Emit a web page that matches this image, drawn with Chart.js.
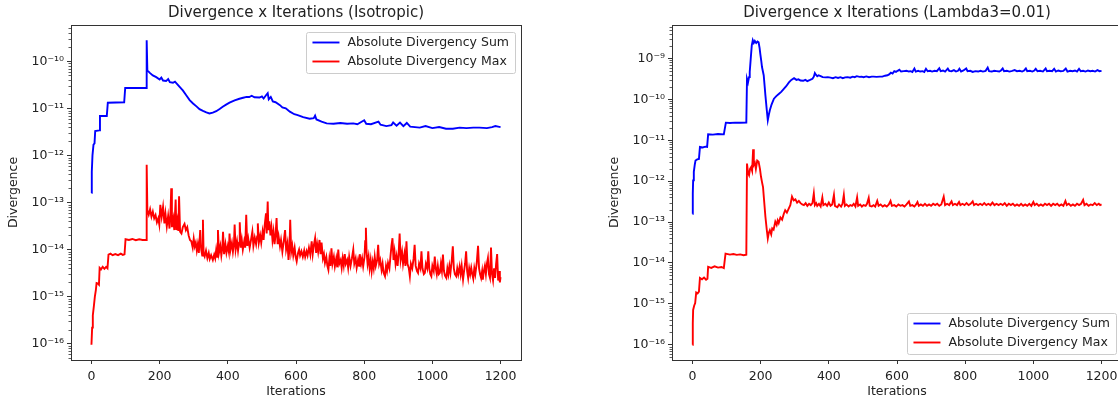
<!DOCTYPE html>
<html>
<head>
<meta charset="utf-8">
<script src="https://cdn.jsdelivr.net/npm/chart.js@4"></script>
<style>
  html, body { margin: 0; padding: 0; background: #fff; overflow: hidden; }
  body { width: 1118px; height: 400px; position: relative; }
  .plot { position: absolute; top: 0; }
</style>
</head>
<body>
<div class="plot" style="left:0px"><canvas id="chartIso" width="560" height="400"></canvas></div>
<div class="plot" style="left:601px"><canvas id="chartLam" width="560" height="400"></canvas></div>
<script>
// titles and labels
const titles = ['Divergence x Iterations (Isotropic)', 'Divergence x Iterations (Lambda3=0.01)'];
const seriesNames = ['Absolute Divergency Sum', 'Absolute Divergency Max'];
const xTicks = [0, 200, 400, 600, 800, 1000, 1200];
const yTicks = [1e-16, 1e-15, 1e-14, 1e-13, 1e-12, 1e-11, 1e-10, 1e-9];

// [iteration, value] - isotropic run
const isoSum = [
  [0,1.6e-13],[1,4.5e-13],[3,1.0e-12],[6,1.7e-12],[9,1.8e-12],[11,3.3e-12],[23,3.4e-12],[25,6.9e-12],[45,6.9e-12],
  [48,1.32e-11],[96,1.35e-11],[99,2.7e-11],[160,2.7e-11],[162,2.8e-10],[164,6.4e-11],[172,5.6e-11],[180,5.0e-11],
  [190,4.6e-11],[200,4.1e-11],[205,4.5e-11],[210,3.9e-11],[219,3.8e-11],[225,4.2e-11],[230,3.6e-11],[239,3.5e-11],
  [245,3.7e-11],[258,2.9e-11],[268,2.4e-11],[278,1.9e-11],[288,1.5e-11],[298,1.27e-11],[308,1.1e-11],[317,9.6e-12],
  [327,8.8e-12],[337,8.2e-12],[346,7.8e-12],[356,8.1e-12],[366,8.7e-12],[376,9.7e-12],[385,1.08e-11],[395,1.2e-11],
  [405,1.32e-11],[420,1.48e-11],[434,1.6e-11],[445,1.68e-11],[455,1.75e-11],[463,1.74e-11],[470,1.85e-11],[478,1.72e-11],
  [493,1.7e-11],[500,1.8e-11],[505,1.62e-11],[512,1.9e-11],[517,2.1e-11],[520,1.55e-11],[526,1.75e-11],[532,1.4e-11],
  [540,1.35e-11],[553,1.17e-11],[560,1.05e-11],[570,1.0e-11],[582,8.5e-12],[595,7.5e-12],[605,7.2e-12],[621,6.5e-12],
  [640,6.0e-12],[652,6.2e-12],[656,7.0e-12],[660,5.8e-12],[675,5.2e-12],[690,4.8e-12],[710,4.7e-12],[730,4.9e-12],
  [750,4.7e-12],[768,4.8e-12],[780,4.6e-12],[800,5.6e-12],[806,4.7e-12],[820,4.6e-12],[842,5.2e-12],[848,4.5e-12],
  [865,4.2e-12],[880,4.4e-12],[885,5.0e-12],[895,4.3e-12],[905,5.0e-12],[915,4.2e-12],[925,4.9e-12],[935,4.1e-12],
  [963,3.9e-12],[980,4.2e-12],[1000,3.8e-12],[1020,4.0e-12],[1040,3.7e-12],[1060,3.7e-12],[1080,3.9e-12],[1100,3.8e-12],
  [1120,3.9e-12],[1138,3.9e-12],[1160,3.8e-12],[1175,4.0e-12],[1185,4.2e-12],[1193,4.1e-12],[1200,4.0e-12]
];
const isoMax = [
  [0,9.5e-17],[2,2.2e-16],[4,4.0e-16],[7,6.2e-16],[10,1.0e-15],[13,1.4e-15],[15,1.95e-15],[19,1.9e-15],[22,1.8e-15],
  [24,4.1e-15],[28,3.8e-15],[33,4.3e-15],[38,3.9e-15],[43,4.3e-15],[47,4.0e-15],[50,7.8e-15],[56,8.2e-15],[62,7.6e-15],
  [70,8.0e-15],[78,7.6e-15],[86,8.2e-15],[92,7.7e-15],[97,7.9e-15],[100,1.66e-14],[110,1.6e-14],[120,1.68e-14],
  [130,1.58e-14],[140,1.65e-14],[150,1.6e-14],[160,1.6e-14],[162,6.3e-13],[164,6.9e-14],[168,5.5e-14],[172,7.2e-14],
  [176,5.0e-14],[180,6.4e-14],[184,4.6e-14],[188,5.4e-14],[192,3.8e-14],[196,4.6e-14],[199,3.4e-14],[202,8.9e-14],
  [206,5.0e-14],[210,8.1e-14],[214,3.6e-14],[217,5.8e-14],[221,3.1e-14],[225,5.2e-14],[229,2.8e-14],[232,6.5e-14],
  [234,2.0e-13],[236,3.0e-14],[240,4.5e-14],[243,2.6e-14],[247,1.15e-13],[249,2.6e-14],[252,4.0e-14],[255,2.5e-14],
  [257,1.35e-13],[260,2.4e-14],[264,2.2e-14],[268,3.0e-14],[273,3.5e-14],[277,2.6e-14],[281,3.0e-14],[285,2.0e-14],
  [289,1.6e-14],[293,1.5e-14],[297,1.1e-14],[300,1.7e-14],[303,1.17e-14],[306,1.4e-14],[309,9.5e-15],[312,1.3e-14],
  [315,8.5e-15],[319,2.6e-14],[322,1.0e-14],[325,7.5e-15],[327,4.3e-14],[329,8.0e-15],[332,7.1e-15],[336,9.5e-15],
  [340,6.6e-15],[344,8.5e-15],[347,6.3e-15],[351,7.6e-15],[356,6.0e-15],[360,7.8e-15],[363,6.5e-15],[366,1.0e-14],
  [369,7.0e-15],[371,2.6e-14],[374,8.5e-15],[378,1.2e-14],[381,7.5e-15],[384,1.1e-14],[386,2.4e-14],[389,8.0e-15],
  [393,1.3e-14],[396,8.5e-15],[400,1.2e-14],[403,9.0e-15],[405,2.2e-14],[408,1.0e-14],[412,1.4e-14],[415,9.0e-15],
  [418,1.3e-14],[420,3.4e-14],[423,1.0e-14],[427,1.5e-14],[430,9.5e-15],[433,1.4e-14],[435,3.8e-14],[438,1.1e-14],
  [441,1.6e-14],[444,1.0e-14],[448,1.5e-14],[451,1.1e-14],[454,5.5e-14],[457,1.2e-14],[460,1.7e-14],[464,1.1e-14],
  [468,1.6e-14],[472,2.4e-14],[475,1.2e-14],[479,1.8e-14],[483,1.3e-14],[486,1.9e-14],[488,3.6e-14],[491,1.4e-14],
  [495,2.0e-14],[498,1.4e-14],[502,2.4e-14],[505,1.6e-14],[508,3.2e-14],[512,5.9e-14],[514,2.2e-14],[517,1.05e-13],
  [519,2.6e-14],[522,4.0e-14],[525,2.0e-14],[528,3.0e-14],[531,1.6e-14],[534,2.4e-14],[537,1.3e-14],[540,2.0e-14],
  [543,4.7e-14],[546,1.3e-14],[549,1.9e-14],[553,1.17e-14],[556,1.6e-14],[560,9.0e-15],[564,1.5e-14],[568,2.6e-14],
  [571,1.0e-14],[575,1.4e-14],[578,6.0e-15],[581,1.1e-14],[583,4.3e-14],[586,9.0e-15],[589,1.2e-14],[592,7.5e-15],
  [596,1.1e-14],[599,7.0e-15],[602,5.6e-15],[606,8.5e-15],[609,1.0e-14],[612,7.5e-15],[616,9.2e-15],[620,7.0e-15],
  [624,9.5e-15],[627,7.0e-15],[631,9.2e-15],[634,7.5e-15],[638,1.1e-14],[642,7.8e-15],[646,1.5e-14],[649,8.0e-15],
  [652,1.2e-14],[656,1.74e-14],[659,8.5e-15],[662,1.3e-14],[665,9.0e-15],[669,1.6e-14],[672,8.0e-15],[675,1.4e-14],
  [679,6.5e-15],[682,8.0e-15],[685,5.2e-15],[689,7.0e-15],[692,4.5e-15],[695,3.7e-15],[698,6.5e-15],[701,4.5e-15],
  [704,1.07e-14],[707,5.0e-15],[711,7.0e-15],[714,4.4e-15],[718,6.5e-15],[721,4.2e-15],[724,1.0e-14],[727,5.0e-15],
  [731,6.0e-15],[734,4.1e-15],[737,6.5e-15],[740,4.6e-15],[743,8.0e-15],[746,5.0e-15],[750,6.0e-15],[753,4.1e-15],
  [756,7.0e-15],[760,4.5e-15],[764,6.5e-15],[768,1.0e-14],[771,5.0e-15],[775,6.5e-15],[778,4.1e-15],[782,6.0e-15],
  [785,4.5e-15],[787,8.0e-15],[791,5.0e-15],[794,6.5e-15],[797,4.4e-15],[801,7.0e-15],[803,1.5e-14],[805,2.9e-14],
  [807,9.0e-15],[810,5.0e-15],[813,7.0e-15],[816,4.0e-15],[819,6.0e-15],[822,3.5e-15],[825,5.5e-15],[828,4.0e-15],
  [831,7.0e-15],[834,4.5e-15],[838,6.0e-15],[841,1.26e-14],[844,5.0e-15],[847,6.0e-15],[851,3.7e-15],[854,5.0e-15],
  [857,3.2e-15],[861,2.7e-15],[864,4.5e-15],[867,3.5e-15],[870,5.2e-15],[874,4.0e-15],[877,7.0e-15],[880,1.2e-14],
  [883,1.74e-14],[886,6.0e-15],[889,9.0e-15],[892,5.0e-15],[895,7.1e-15],[898,4.5e-15],[901,8.0e-15],[904,2.2e-14],
  [907,6.0e-15],[911,9.0e-15],[914,5.0e-15],[918,8.0e-15],[921,4.5e-15],[924,1.5e-14],[927,5.0e-15],[931,4.0e-15],
  [934,2.7e-15],[937,5.0e-15],[941,4.0e-15],[945,6.5e-15],[948,1.26e-14],[951,4.5e-15],[955,3.5e-15],[958,3.2e-15],
  [961,5.0e-15],[965,4.0e-15],[968,9.2e-15],[971,4.0e-15],[975,3.0e-15],[978,3.2e-15],[981,5.0e-15],[985,4.0e-15],
  [988,9.2e-15],[991,4.0e-15],[994,3.0e-15],[997,2.7e-15],[1000,4.5e-15],[1004,3.5e-15],[1007,7.1e-15],[1010,4.0e-15],
  [1013,3.0e-15],[1016,4.5e-15],[1019,3.0e-15],[1022,3.2e-15],[1025,5.0e-15],[1028,3.5e-15],[1031,7.8e-15],[1034,3.5e-15],
  [1037,2.8e-15],[1041,2.5e-15],[1044,4.0e-15],[1047,3.0e-15],[1050,4.5e-15],[1053,3.2e-15],[1057,6.0e-15],[1060,1.17e-14],
  [1063,4.0e-15],[1066,3.0e-15],[1070,2.7e-15],[1073,4.0e-15],[1076,3.0e-15],[1080,4.4e-15],[1083,3.0e-15],[1086,4.5e-15],
  [1090,2.3e-15],[1093,3.5e-15],[1096,5.0e-15],[1099,9.2e-15],[1102,3.5e-15],[1105,2.5e-15],[1108,4.0e-15],[1111,3.0e-15],
  [1114,4.1e-15],[1117,3.0e-15],[1120,2.4e-15],[1123,4.0e-15],[1126,3.0e-15],[1130,5.0e-15],[1134,1.2e-14],[1137,4.0e-15],
  [1140,3.0e-15],[1143,2.5e-15],[1146,3.5e-15],[1148,2.3e-15],[1151,3.5e-15],[1154,4.5e-15],[1157,3.0e-15],[1160,5.0e-15],
  [1163,6.6e-15],[1166,3.0e-15],[1169,2.5e-15],[1172,1.1e-14],[1175,3.0e-15],[1178,2.2e-15],[1181,4.0e-15],[1184,2.5e-15],
  [1187,5.0e-15],[1190,8.0e-15],[1193,2.2e-15],[1196,3.5e-15],[1198,2.0e-15],[1200,2.6e-15]
];

// [iteration, value] - Lambda3=0.01 run
const lamSum = [
  [0,1.6e-13],[1,5.0e-13],[2,1.05e-12],[4,1.7e-12],[7,2.6e-12],[9,3.2e-12],[14,3.4e-12],[19,3.5e-12],[22,6.9e-12],
  [30,6.7e-12],[38,7.0e-12],[43,6.9e-12],[46,1.4e-11],[60,1.38e-11],[75,1.42e-11],[92,1.4e-11],[98,2.7e-11],[110,2.65e-11],
  [125,2.7e-11],[140,2.68e-11],[158,2.7e-11],[160,3.2e-10],[163,2.6e-10],[166,3.5e-10],[168,4.7e-10],[171,1.0e-9],
  [174,2.1e-9],[177,2.8e-9],[180,2.4e-9],[183,2.7e-9],[187,2.4e-9],[191,2.6e-9],[194,2.5e-9],[197,1.8e-9],[199,1.3e-9],
  [202,8.5e-10],[204,6.2e-10],[209,3.9e-10],[212,2.0e-10],[214,1.26e-10],[218,5.5e-11],[221,3.1e-11],[224,4.2e-11],
  [227,5.4e-11],[232,7.5e-11],[239,1.04e-10],[246,1.2e-10],[254,1.38e-10],[261,1.55e-10],[268,1.8e-10],[275,2.1e-10],
  [283,2.6e-10],[290,3.0e-10],[298,3.3e-10],[305,3.0e-10],[311,3.1e-10],[317,2.9e-10],[325,2.85e-10],[331,3.0e-10],
  [337,2.8e-10],[345,3.0e-10],[352,3.2e-10],[356,3.6e-10],[359,4.4e-10],[362,4.0e-10],[366,3.7e-10],[370,3.9e-10],
  [376,3.7e-10],[382,3.5e-10],[390,3.45e-10],[397,3.5e-10],[405,3.4e-10],[412,3.3e-10],[420,3.5e-10],[427,3.35e-10],
  [434,3.5e-10],[441,3.3e-10],[448,3.45e-10],[455,3.5e-10],[463,3.4e-10],[470,3.6e-10],[476,3.5e-10],[482,3.7e-10],
  [490,3.55e-10],[496,3.6e-10],[502,3.5e-10],[510,3.65e-10],[518,3.5e-10],[526,3.6e-10],[531,3.6e-10],[540,3.55e-10],
  [550,3.6e-10],[557,3.6e-10],[565,3.8e-10],[572,3.9e-10],[577,4.1e-10],[582,4.5e-10],[587,4.3e-10],[592,4.9e-10],
  [597,4.7e-10],[602,5.0e-10],[607,5.3e-10],[612,4.8e-10],[620,4.9e-10],[628,5.0e-10],[635,4.8e-10],[640,4.9e-10],
  [645,4.7e-10],[651,5.7e-10],[655,4.8e-10],[662,5.0e-10],[668,4.8e-10],[675,4.9e-10],[680,4.7e-10],[685,5.6e-10],
  [690,4.9e-10],[697,5.0e-10],[703,4.8e-10],[710,5.0e-10],[717,4.9e-10],[724,5.8e-10],[728,4.9e-10],[735,5.1e-10],
  [741,4.8e-10],[749,5.7e-10],[753,5.0e-10],[760,4.9e-10],[767,5.2e-10],[773,4.8e-10],[779,5.0e-10],[783,5.6e-10],
  [788,4.8e-10],[795,5.1e-10],[803,5.7e-10],[807,4.9e-10],[815,5.0e-10],[822,4.7e-10],[830,4.9e-10],[838,4.8e-10],
  [845,5.0e-10],[852,4.8e-10],[860,5.0e-10],[866,6.0e-10],[870,4.9e-10],[878,4.8e-10],[885,5.0e-10],[892,4.9e-10],
  [900,4.8e-10],[905,5.1e-10],[910,5.7e-10],[914,4.9e-10],[922,5.0e-10],[930,4.8e-10],[938,5.0e-10],[945,5.2e-10],
  [952,4.9e-10],[960,5.0e-10],[967,4.8e-10],[973,5.1e-10],[978,5.7e-10],[982,4.9e-10],[990,5.0e-10],[997,4.8e-10],
  [1003,5.1e-10],[1007,5.6e-10],[1012,4.9e-10],[1020,5.0e-10],[1028,4.8e-10],[1036,5.7e-10],[1040,4.9e-10],[1048,5.0e-10],
  [1055,4.9e-10],[1061,5.6e-10],[1066,4.8e-10],[1073,5.1e-10],[1080,4.9e-10],[1088,5.0e-10],[1095,5.7e-10],[1100,4.8e-10],
  [1108,5.0e-10],[1115,4.9e-10],[1122,5.1e-10],[1128,4.8e-10],[1134,5.6e-10],[1139,4.9e-10],[1146,5.0e-10],[1153,4.8e-10],
  [1160,5.1e-10],[1167,4.9e-10],[1174,5.0e-10],[1181,4.8e-10],[1188,5.2e-10],[1194,4.9e-10],[1200,5.0e-10]
];
const lamMax = [
  [0,1.0e-16],[1,3.4e-16],[2,7.1e-16],[5,9.0e-16],[8,1.05e-15],[11,1.9e-15],[15,1.8e-15],[19,2.0e-15],[22,4.3e-15],
  [28,4.0e-15],[34,4.4e-15],[40,3.9e-15],[44,4.1e-15],[46,8.1e-15],[55,7.6e-15],[65,8.3e-15],[75,7.7e-15],[85,8.0e-15],
  [92,7.5e-15],[97,1.7e-14],[110,1.6e-14],[120,1.65e-14],[130,1.58e-14],[140,1.62e-14],[150,1.55e-14],[158,1.6e-14],
  [160,2.7e-12],[163,1.6e-12],[166,1.4e-12],[169,2.0e-12],[172,2.2e-12],[175,1.8e-12],[178,6.0e-12],[180,2.5e-12],
  [183,2.8e-12],[186,2.0e-12],[190,3.2e-12],[194,3.0e-12],[198,2.0e-12],[201,1.3e-12],[204,9.5e-13],[207,7.2e-13],
  [210,3.5e-13],[214,1.35e-13],[218,6.5e-14],[221,4.0e-14],[224,5.5e-14],[227,6.3e-14],[231,5.0e-14],[234,7.0e-14],
  [238,6.5e-14],[243,1.02e-13],[247,8.5e-14],[250,1.1e-13],[253,9.5e-14],[258,1.3e-13],[263,1.15e-13],[268,1.6e-13],
  [272,1.95e-13],[277,1.7e-13],[282,2.1e-13],[287,2.6e-13],[292,4.2e-13],[297,3.4e-13],[302,3.6e-13],[307,3.0e-13],
  [312,3.3e-13],[317,2.9e-13],[322,2.7e-13],[327,2.6e-13],[332,2.9e-13],[337,2.5e-13],[342,2.8e-13],[347,2.6e-13],
  [352,2.9e-13],[356,5.0e-13],[359,2.6e-13],[363,2.9e-13],[366,2.5e-13],[371,2.8e-13],[376,2.4e-13],[381,4.0e-13],
  [384,2.6e-13],[390,2.8e-13],[395,2.5e-13],[400,3.0e-13],[405,2.5e-13],[410,2.7e-13],[415,4.6e-13],[418,2.5e-13],
  [425,2.3e-13],[430,2.7e-13],[436,2.4e-13],[440,2.8e-13],[444,4.6e-13],[447,2.5e-13],[452,2.7e-13],[458,2.4e-13],
  [463,2.6e-13],[468,2.5e-13],[473,2.8e-13],[478,2.4e-13],[483,4.0e-13],[486,2.5e-13],[492,2.7e-13],[497,2.4e-13],
  [502,2.6e-13],[508,2.5e-13],[512,2.8e-13],[517,3.9e-13],[520,2.5e-13],[526,2.4e-13],[531,2.6e-13],[536,2.4e-13],
  [542,3.3e-13],[546,2.5e-13],[552,2.7e-13],[558,2.4e-13],[564,2.6e-13],[570,2.4e-13],[576,2.7e-13],[581,3.3e-13],
  [585,2.5e-13],[592,2.6e-13],[598,2.4e-13],[604,2.7e-13],[610,2.5e-13],[616,2.6e-13],[622,2.4e-13],[628,2.7e-13],
  [635,3.2e-13],[639,2.5e-13],[645,2.6e-13],[651,2.4e-13],[656,2.7e-13],[660,3.1e-13],[664,2.5e-13],[670,2.7e-13],
  [676,2.5e-13],[682,2.8e-13],[688,2.5e-13],[694,2.7e-13],[700,2.5e-13],[706,2.8e-13],[712,2.6e-13],[718,2.8e-13],
  [724,2.5e-13],[730,2.7e-13],[737,4.2e-13],[741,2.6e-13],[747,2.8e-13],[753,2.6e-13],[760,3.2e-13],[764,2.6e-13],
  [770,2.8e-13],[776,2.6e-13],[782,3.1e-13],[786,2.6e-13],[792,2.8e-13],[798,2.6e-13],[804,2.9e-13],[810,2.6e-13],
  [816,2.8e-13],[822,3.2e-13],[826,2.6e-13],[832,2.8e-13],[838,2.6e-13],[844,2.8e-13],[850,2.6e-13],[856,2.9e-13],
  [862,2.6e-13],[868,2.8e-13],[874,2.6e-13],[880,3.0e-13],[886,2.6e-13],[892,2.8e-13],[898,2.6e-13],[904,2.8e-13],
  [910,2.6e-13],[916,2.9e-13],[922,2.5e-13],[928,2.8e-13],[934,2.6e-13],[940,2.8e-13],[946,2.5e-13],[952,2.7e-13],
  [958,2.5e-13],[964,2.8e-13],[970,2.5e-13],[976,2.7e-13],[982,2.5e-13],[988,2.8e-13],[994,2.5e-13],[1000,3.1e-13],
  [1004,2.6e-13],[1010,2.8e-13],[1016,2.5e-13],[1022,2.7e-13],[1028,2.5e-13],[1034,2.8e-13],[1040,2.6e-13],[1046,2.8e-13],
  [1052,2.5e-13],[1058,2.8e-13],[1064,2.6e-13],[1070,2.8e-13],[1076,2.5e-13],[1082,2.7e-13],[1088,2.5e-13],[1094,3.3e-13],
  [1098,2.6e-13],[1104,2.8e-13],[1110,2.5e-13],[1116,2.7e-13],[1122,2.5e-13],[1128,2.8e-13],[1134,2.6e-13],[1140,2.8e-13],
  [1146,3.5e-13],[1150,2.6e-13],[1156,2.8e-13],[1162,2.5e-13],[1168,2.7e-13],[1174,2.6e-13],[1180,2.9e-13],[1186,2.6e-13],
  [1192,2.8e-13],[1196,2.6e-13],[1200,2.7e-13]
];

const FONT = '"DejaVu Sans", sans-serif';
const INK = '#222';

// 10 with a superscript exponent, like matplotlib's log ticks
function powLabel(v) {
  const sup = {'-': '\u207B', '0': '\u2070', '1': '\u00B9', '2': '\u00B2', '3': '\u00B3', '4': '\u2074',
               '5': '\u2075', '6': '\u2076', '7': '\u2077', '8': '\u2078', '9': '\u2079'};
  const e = String(Math.round(Math.log10(v)));
  return '10' + e.split('').map(c => sup[c]).join('');
}

// axes frame, minor log ticks, title and boxed legend drawn like matplotlib
const mplLook = {
  id: 'mplLook',
  afterDatasetsDraw(chart, args, opts) {
    const ctx = chart.ctx, a = chart.chartArea, ys = chart.scales.y;
    ctx.save();
    // minor ticks
    ctx.strokeStyle = '#333';
    ctx.lineWidth = 0.8;
    for (let e = -17; e <= -8; e++) {
      for (let k = 2; k <= 9; k++) {
        const v = k * Math.pow(10, e);
        if (v < ys.min || v > ys.max) continue;
        const py = Math.round(ys.getPixelForValue(v)) + 0.5;
        ctx.beginPath(); ctx.moveTo(a.left - 2.5, py); ctx.lineTo(a.left, py); ctx.stroke();
      }
    }
    // frame
    ctx.lineWidth = 1;
    ctx.strokeRect(Math.round(a.left) + 0.5, Math.round(a.top) + 0.5, Math.round(a.right - a.left), Math.round(a.bottom - a.top));
    // title
    ctx.fillStyle = INK;
    ctx.font = '15px ' + FONT;
    ctx.textAlign = 'center';
    ctx.textBaseline = 'middle';
    ctx.fillText(opts.title, (a.left + a.right) / 2, 13);
    // legend
    ctx.font = '12.5px ' + FONT;
    const sets = chart.data.datasets;
    const tw = Math.max(...sets.map(d => ctx.measureText(d.label).width));
    const w = tw + 47, h = 41;
    const x = a.right - 6 - w;
    const y = opts.legend === 'lower right' ? a.bottom - 6 - h : a.top + 7;
    ctx.fillStyle = 'rgba(255,255,255,0.85)';
    ctx.strokeStyle = '#cccccc';
    ctx.beginPath();
    ctx.roundRect(Math.round(x) + 0.5, Math.round(y) + 0.5, Math.round(w), h, 2);
    ctx.fill(); ctx.stroke();
    ctx.textAlign = 'left';
    sets.forEach((d, i) => {
      const cy = y + 10.5 + i * 19;
      ctx.strokeStyle = d.borderColor;
      ctx.lineWidth = 1.9;
      ctx.beginPath(); ctx.moveTo(x + 6, cy); ctx.lineTo(x + 33, cy); ctx.stroke();
      ctx.fillStyle = INK;
      ctx.fillText(d.label, x + 41, cy + 0.5);
    });
    ctx.restore();
  }
};

function makeChart(id, title, sumPts, maxPts, legendPos) {
  // matplotlib style 5% margins (in log space for y)
  const all = sumPts.concat(maxPts);
  const lo = Math.log10(Math.min(...all.map(p => p[1])));
  const hi = Math.log10(Math.max(...all.map(p => p[1])));
  const padY = (hi - lo) * 0.05;
  const x0 = Math.min(...all.map(p => p[0])), x1 = Math.max(...all.map(p => p[0]));
  const padX = (x1 - x0) * 0.05;

  new Chart(document.getElementById(id), {
    type: 'line',
    data: {
      datasets: [
        { label: seriesNames[0], data: sumPts.map(p => ({x: p[0], y: p[1]})), borderColor: '#0000ff' },
        { label: seriesNames[1], data: maxPts.map(p => ({x: p[0], y: p[1]})), borderColor: '#ff0000' }
      ]
    },
    options: {
      responsive: false,
      animation: false,
      layout: { padding: { top: 25, right: 39, left: 0, bottom: 0 } },
      elements: { point: { radius: 0 }, line: { borderWidth: 1.9, tension: 0 } },
      plugins: {
        legend: { display: false },
        tooltip: { enabled: false },
        mplLook: { title: title, legend: legendPos }
      },
      scales: {
        x: {
          type: 'linear',
          min: x0 - padX,
          max: x1 + padX,
          afterBuildTicks: s => { s.ticks = xTicks.map(v => ({value: v})); },
          afterFit: s => { s.height = 40; },
          border: { display: false },
          grid: { drawOnChartArea: false, drawTicks: true, tickLength: 4, color: '#333' },
          ticks: { color: INK, font: { family: FONT, size: 12.5 }, padding: 5, maxRotation: 0, autoSkip: false,
                   callback: v => String(v) },
          title: { display: true, text: 'Iterations', color: INK, font: { family: FONT, size: 12.5 }, padding: { top: 0, bottom: 1 } }
        },
        y: {
          type: 'logarithmic',
          min: Math.pow(10, lo - padY),
          max: Math.pow(10, hi + padY),
          afterBuildTicks: s => { s.ticks = yTicks.filter(v => v >= s.min && v <= s.max).map(v => ({value: v})); },
          afterFit: s => { s.width = 71; },
          border: { display: false },
          grid: { drawOnChartArea: false, drawTicks: true, tickLength: 4, color: '#333' },
          ticks: { color: INK, font: { family: FONT, size: 12.5 }, padding: 3, autoSkip: false, callback: v => powLabel(v) },
          title: { display: true, text: 'Divergence', color: INK, font: { family: FONT, size: 12.5 }, padding: { top: 6.5, bottom: 0 } }
        }
      }
    },
    plugins: [mplLook]
  });
}

makeChart('chartIso', titles[0], isoSum, isoMax, 'upper right');
makeChart('chartLam', titles[1], lamSum, lamMax, 'lower right');
</script>
</body>
</html>
